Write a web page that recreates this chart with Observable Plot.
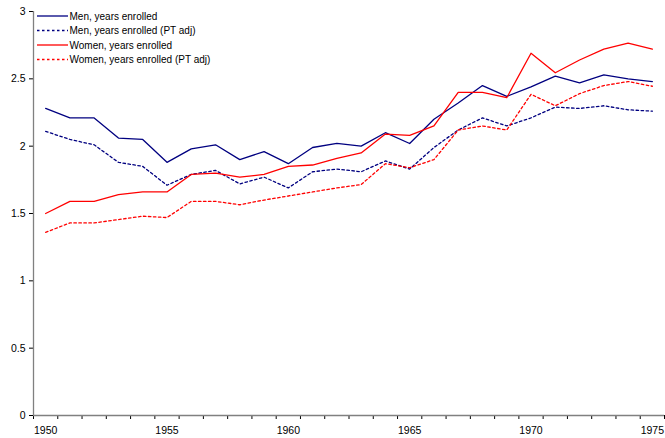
<!DOCTYPE html>
<html>
<head>
<meta charset="utf-8">
<script src="https://cdn.jsdelivr.net/npm/d3@7"></script>
<script src="https://cdn.jsdelivr.net/npm/@observablehq/plot@0.6"></script>
<style>
  html, body { margin: 0; padding: 0; background: #fff; }
  #chart { position: relative; width: 665px; height: 438px; }
</style>
</head>
<body>
<div id="chart"></div>
<script>
const years = [1950, 1951, 1952, 1953, 1954, 1955, 1956, 1957, 1958, 1959, 1960, 1961, 1962,
               1963, 1964, 1965, 1966, 1967, 1968, 1969, 1970, 1971, 1972, 1973, 1974, 1975];

const menEnrolled   = [2.28, 2.21, 2.21, 2.06, 2.05, 1.88, 1.98, 2.01, 1.90, 1.96, 1.87, 1.99, 2.02,
                       2.00, 2.10, 2.02, 2.20, 2.32, 2.45, 2.37, 2.44, 2.52, 2.47, 2.53, 2.50, 2.48];
const menPTadj      = [2.11, 2.05, 2.01, 1.88, 1.85, 1.71, 1.79, 1.82, 1.72, 1.77, 1.69, 1.81, 1.83,
                       1.81, 1.89, 1.83, 1.99, 2.12, 2.21, 2.15, 2.21, 2.29, 2.28, 2.30, 2.27, 2.26];
const womenEnrolled = [1.50, 1.59, 1.59, 1.64, 1.66, 1.66, 1.79, 1.80, 1.77, 1.79, 1.85, 1.86, 1.91,
                       1.95, 2.09, 2.08, 2.15, 2.40, 2.40, 2.36, 2.69, 2.545, 2.64, 2.72, 2.765, 2.72];
const womenPTadj    = [1.36, 1.43, 1.43, 1.455, 1.48, 1.47, 1.59, 1.59, 1.565, 1.60, 1.63, 1.66, 1.69,
                       1.715, 1.87, 1.84, 1.90, 2.12, 2.15, 2.12, 2.385, 2.30, 2.39, 2.45, 2.48, 2.445];

const seriesNames = ["Men, years enrolled", "Men, years enrolled (PT adj)",
                     "Women, years enrolled", "Women, years enrolled (PT adj)"];
const seriesColors = ["#000080", "#000080", "#ff0000", "#ff0000"];
const seriesDashed = [false, true, false, true];
const seriesValues = [menEnrolled, menPTadj, womenEnrolled, womenPTadj];

const yTicks = [0, 0.5, 1, 1.5, 2, 2.5, 3];
const xLabelTicks = [1950, 1955, 1960, 1965, 1970, 1975];
const xTickMarks = [1949.5, 1950.5, 1951.5, 1952.5, 1953.5, 1954.5, 1955.5, 1956.5, 1957.5,
                    1958.5, 1959.5, 1960.5, 1961.5, 1962.5, 1963.5, 1964.5, 1965.5, 1966.5,
                    1967.5, 1968.5, 1969.5, 1970.5, 1971.5, 1972.5, 1973.5, 1974.5, 1975.5];

const rows = [];
seriesValues.forEach((vals, s) => {
  vals.forEach((v, i) => rows.push({series: seriesNames[s], year: years[i], value: v}));
});

const DASH = "2.5,2.5";

const lineMarks = seriesNames.map((name, s) =>
  Plot.line(rows.filter(d => d.series === name), {
    x: "year", y: "value",
    stroke: seriesColors[s],
    strokeWidth: 1.3,
    strokeDasharray: seriesDashed[s] ? DASH : null
  })
);

const svg = Plot.plot({
  width: 665,
  height: 438,
  marginLeft: 33,
  marginRight: 1,
  marginTop: 11,
  marginBottom: 23,
  style: {fontFamily: "'Liberation Sans', Arial, sans-serif", fontSize: "10.5px", background: "#fff", color: "#000"},
  x: {domain: [1949.5, 1975.5], range: [33, 664]},
  y: {domain: [0, 3], range: [415, 11]},
  marks: [
    Plot.axisY({ticks: yTicks, tickSize: 4, tickPadding: 4, tickFormat: d => String(d), label: null}),
    Plot.axisX({ticks: xTickMarks, tickSize: 4, tickFormat: () => "", label: null}),
    Plot.axisX({ticks: xLabelTicks, tickSize: 0, tickPadding: 11, tickFormat: d => String(d), label: null}),
    Plot.ruleX([1949.5], {stroke: "#808080", strokeWidth: 1.3}),
    Plot.ruleY([0], {stroke: "#808080", strokeWidth: 1.3}),
    ...lineMarks
  ]
});

// legend inside the plot area, top-left
const leg = d3.select(svg).append("g")
  .attr("font-family", "'Liberation Sans', Arial, sans-serif")
  .attr("font-size", "10px")
  .attr("text-anchor", "start");
const legY = [16, 30.5, 45, 59.5];
seriesNames.forEach((name, s) => {
  const g = leg.append("g").attr("transform", `translate(0,${legY[s]})`);
  g.append("line")
    .attr("x1", 37).attr("x2", 68).attr("y1", 0).attr("y2", 0)
    .attr("stroke", seriesColors[s]).attr("stroke-width", 1.3)
    .attr("stroke-dasharray", seriesDashed[s] ? DASH : null);
  g.append("text")
    .attr("x", 69.5).attr("y", 0).attr("dy", "0.35em")
    .attr("text-anchor", "start")
    .attr("fill", "#000")
    .text(name);
});

document.getElementById("chart").appendChild(svg);
</script>
</body>
</html>
